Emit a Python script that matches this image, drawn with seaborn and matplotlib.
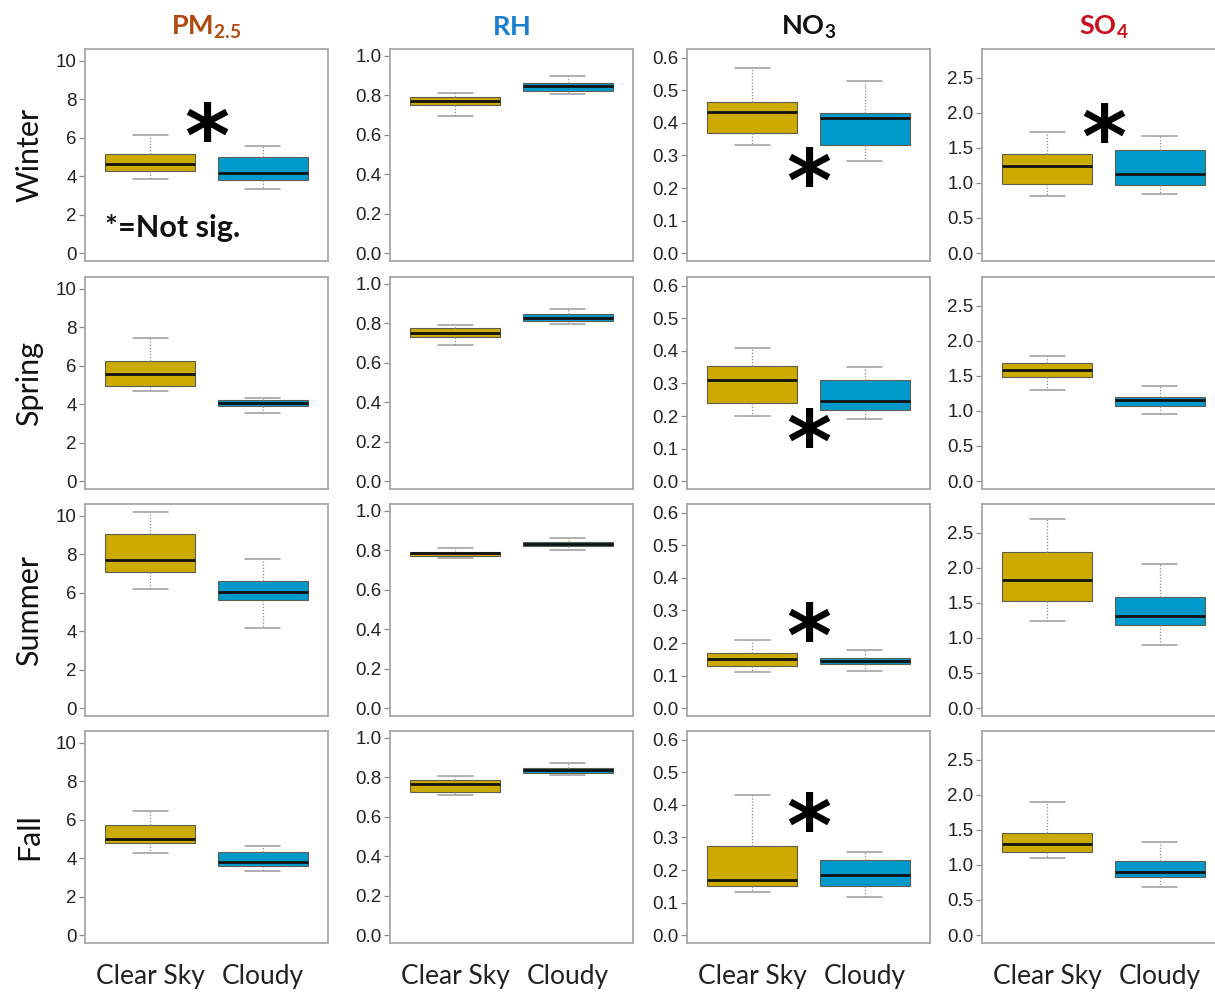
import numpy as np
import pandas as pd
import matplotlib
matplotlib.use("Agg")
import matplotlib.pyplot as plt
import seaborn as sns

SEASONS = ["Winter", "Spring", "Summer", "Fall"]
SKY = ["Clear Sky", "Cloudy"]

# Five-number summaries per season (Winter, Spring, Summer, Fall):
# [lower whisker, Q1, median, Q3, upper whisker]
PM25_CLEAR = [[3.85, 4.28, 4.61, 5.13, 6.13],
              [4.70, 4.92, 5.57, 6.24, 7.45],
              [6.17, 7.07, 7.67, 9.06, 10.16],
              [4.27, 4.79, 4.97, 5.70, 6.44]]
PM25_CLOUDY = [[3.34, 3.78, 4.17, 4.97, 5.56],
               [3.56, 3.89, 4.07, 4.23, 4.30],
               [4.14, 5.59, 6.04, 6.60, 7.72],
               [3.33, 3.60, 3.78, 4.32, 4.63]]
RH_CLEAR = [[0.695, 0.753, 0.771, 0.790, 0.810],
            [0.692, 0.729, 0.753, 0.775, 0.790],
            [0.760, 0.773, 0.784, 0.793, 0.813],
            [0.711, 0.725, 0.767, 0.786, 0.806]]
RH_CLOUDY = [[0.805, 0.820, 0.846, 0.864, 0.898],
             [0.795, 0.810, 0.828, 0.848, 0.874],
             [0.802, 0.822, 0.833, 0.841, 0.861],
             [0.813, 0.822, 0.837, 0.848, 0.872]]
NO3_CLEAR = [[0.332, 0.368, 0.433, 0.464, 0.569],
             [0.200, 0.240, 0.310, 0.355, 0.410],
             [0.110, 0.130, 0.150, 0.170, 0.210],
             [0.134, 0.152, 0.169, 0.275, 0.430]]
NO3_CLOUDY = [[0.282, 0.333, 0.416, 0.429, 0.530],
              [0.190, 0.220, 0.245, 0.310, 0.350],
              [0.115, 0.135, 0.145, 0.155, 0.180],
              [0.118, 0.150, 0.186, 0.230, 0.256]]
SO4_CLEAR = [[0.81, 0.98, 1.245, 1.41, 1.72],
             [1.30, 1.48, 1.58, 1.69, 1.78],
             [1.24, 1.53, 1.83, 2.23, 2.70],
             [1.10, 1.18, 1.30, 1.46, 1.90]]
SO4_CLOUDY = [[0.84, 0.97, 1.13, 1.47, 1.67],
              [0.96, 1.07, 1.15, 1.20, 1.36],
              [0.90, 1.18, 1.31, 1.58, 2.05],
              [0.68, 0.83, 0.90, 1.06, 1.33]]

VAR_TITLES = [r"$\mathbf{PM_{2.5}}$", r"$\mathbf{RH}$", r"$\mathbf{NO_3}$", r"$\mathbf{SO_4}$"]
TITLE_COLORS = ["#B04A12", "#1A7FD0", "#111111", "#C8101E"]
CLEAR_DATA = [PM25_CLEAR, RH_CLEAR, NO3_CLEAR, SO4_CLEAR]
CLOUDY_DATA = [PM25_CLOUDY, RH_CLOUDY, NO3_CLOUDY, SO4_CLOUDY]
Y_LIMITS = [(-0.41, 10.6), (-0.04, 1.035), (-0.024, 0.627), (-0.114, 2.91)]
Y_TICKS = [[0, 2, 4, 6, 8, 10],
           [0.0, 0.2, 0.4, 0.6, 0.8, 1.0],
           [0.0, 0.1, 0.2, 0.3, 0.4, 0.5, 0.6],
           [0.0, 0.5, 1.0, 1.5, 2.0, 2.5]]
Y_FORMATS = ["{:.0f}", "{:.1f}", "{:.1f}", "{:.1f}"]

# "Not significant" markers: (season row, variable column, height in axes fraction)
NOT_SIG = [(0, 0, 0.632), (0, 2, 0.42), (0, 3, 0.627),
           (1, 2, 0.264), (2, 2, 0.42), (3, 2, 0.594)]

BOX_COLORS = {"Clear Sky": "#CCAA00", "Cloudy": "#0099CC"}

sns.set_theme(style="white")
plt.rcParams["font.family"] = ["Liberation Sans", "DejaVu Sans"]
plt.rcParams["mathtext.fontset"] = "custom"
plt.rcParams["mathtext.rm"] = "Lato"
plt.rcParams["mathtext.bf"] = "Lato:bold"

W, H = 1215, 993
fig = plt.figure(figsize=(W / 100, H / 100), dpi=100)
fig.patch.set_facecolor("white")

col_left = [85, 390, 687, 982]
row_top = [49, 277, 504, 731]
pw, ph = 243, 212

for r, season in enumerate(SEASONS):
    for c in range(4):
        ax = fig.add_axes([col_left[c] / W, 1 - (row_top[r] + ph) / H, pw / W, ph / H])
        values = list(CLEAR_DATA[c][r]) + list(CLOUDY_DATA[c][r])
        df = pd.DataFrame({"sky": np.repeat(SKY, 5), "value": values})
        sns.boxplot(
            data=df, x="sky", y="value", hue="sky", order=SKY, hue_order=SKY,
            palette=BOX_COLORS, saturation=1, width=0.8, whis=(0, 100),
            showfliers=False, linecolor="#5e5e50", linewidth=0.8,
            medianprops=dict(color="#111111", linewidth=2.0),
            whiskerprops=dict(color="#8a8a8a", linestyle=(0, (1, 1.5)), linewidth=0.9),
            capprops=dict(color="#9a9a9a", linewidth=1.1),
            capwidths=0.31, legend=False, ax=ax,
        )
        ax.set_xlim(-0.58, 1.58)
        ax.set_ylim(*Y_LIMITS[c])
        ax.set_yticks(Y_TICKS[c])
        ax.set_yticklabels([Y_FORMATS[c].format(t) for t in Y_TICKS[c]],
                           fontfamily="Liberation Sans")
        ax.set_xlabel("")
        ax.tick_params(axis="y", which="major", left=True, length=4, width=0.9,
                       color="#8c8c8c", labelsize=13.5, labelcolor="#222222", pad=2)
        ax.tick_params(axis="x", which="major", bottom=False, length=0, pad=15,
                       labelsize=19, labelcolor="#222222")
        for lab in ax.get_xticklabels():
            lab.set_fontfamily("Lato")
        if r < 3:
            ax.set_xticklabels([])
        for sp in ax.spines.values():
            sp.set_visible(True)
            sp.set_color("#a8a8a8")
            sp.set_linewidth(1.3)
        if c == 0:
            ax.set_ylabel(season, fontsize=22, family="Lato", color="#111111", labelpad=9)
        else:
            ax.set_ylabel("")
        if r == 0:
            ax.set_title(VAR_TITLES[c], color=TITLE_COLORS[c], fontsize=19.5, pad=10)
        if (r, c) == (0, 0):
            ax.text(0.082, 0.156, "*=Not sig.", transform=ax.transAxes,
                    ha="left", va="center", fontsize=22, fontweight="bold",
                    family="Lato", color="#111111")
        for (nr, nc, ny) in NOT_SIG:
            if (nr, nc) == (r, c):
                ax.text(0.5, ny - 0.075, "*", transform=ax.transAxes, ha="center",
                        va="center", fontsize=62, fontweight="bold",
                        family="DejaVu Sans", color="black")

fig.savefig("out.png", dpi=100, facecolor="white")
